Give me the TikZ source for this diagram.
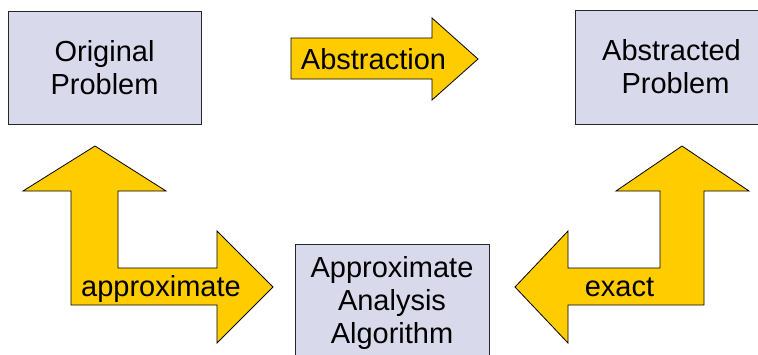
\documentclass[tikz,border=0pt]{standalone}
\usepackage{fontspec}
\setmainfont{Liberation Sans}
\definecolor{boxfill}{HTML}{D9D9EC}
\definecolor{arrowfill}{HTML}{FFCC00}
\begin{document}
\begin{tikzpicture}[x=1pt,y=-1pt,
  probbox/.style={draw=black!85, line width=1pt, fill=boxfill, align=center,
    inner sep=0pt, font=\fontsize{29}{33}\selectfont},
  blockarrow/.style={draw=black, line width=0.8pt, fill=arrowfill, line join=miter},
  arrowlabel/.style={anchor=base, inner sep=0pt, font=\fontsize{29}{33}\selectfont}]
\useasboundingbox (0,0) rectangle (758,354);
\clip (0,0) rectangle (758,354);
\fill[white] (0,0) rectangle (758,354);

% problem boxes
\node[probbox, minimum width=193pt, minimum height=113pt] (orig) at (104.5,67.5)
  {Original\\Problem};
\node[probbox, minimum width=193pt, minimum height=114pt] (abst) at (671.5,67)
  {Abstracted\\\hspace*{8pt}Problem};
\node[probbox, minimum width=194pt, minimum height=117pt] (algo) at (392,302.5)
  {Approximate\\Analysis\\Algorithm};

% straight block arrow between the two problems
\draw[blockarrow] (291,38) -- (432,38) -- (432,18) -- (478,59) -- (432,100)
  -- (432,79) -- (291,79) -- cycle;
\node[arrowlabel] (abslabel) at (373.5,69) {Abstraction};

% bent block arrow on the left
\draw[blockarrow] (95,146) -- (166,191) -- (118,191) -- (118,268) -- (217,268)
  -- (217,231) -- (273,287) -- (217,343) -- (217,305) -- (71,305) -- (71,191)
  -- (23,191) -- cycle;
\node[arrowlabel] (approxlabel) at (161,296) {approximate};

% bent block arrow on the right
\draw[blockarrow] (682,146) -- (749,191) -- (704,191) -- (704,305) -- (568,305)
  -- (568,343) -- (515,287) -- (568,231) -- (568,268) -- (660,268) -- (660,191)
  -- (616,191) -- cycle;
\node[arrowlabel] (exactlabel) at (619.5,296) {exact};
\end{tikzpicture}
\end{document}
